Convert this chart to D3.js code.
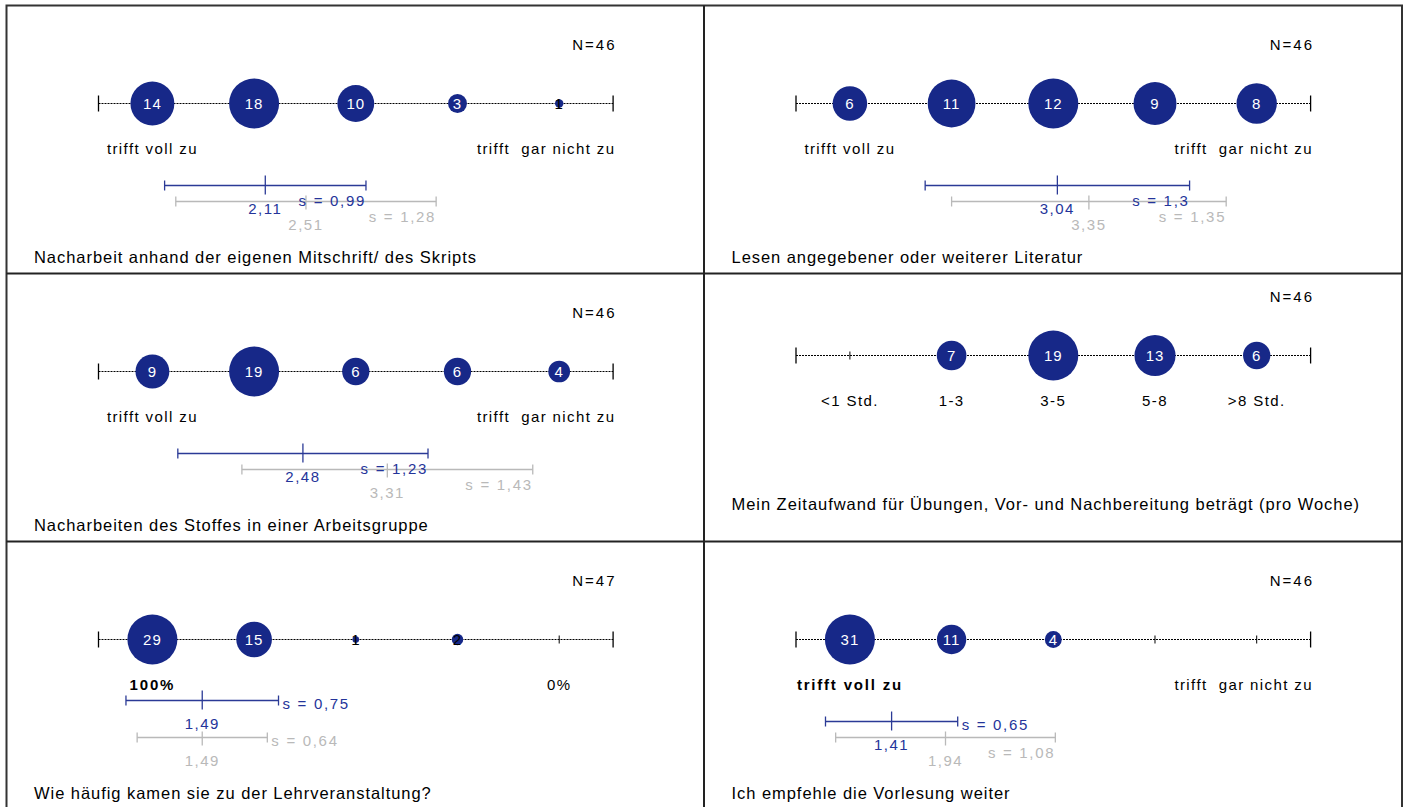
<!DOCTYPE html>
<html>
<head>
<meta charset="utf-8">
<script src="https://cdn.jsdelivr.net/npm/d3@7"></script>
<style>
  body { margin: 0; background: #fff; }
  text { font-family: "Liberation Sans", Arial, sans-serif; white-space: pre; }
</style>
</head>
<body>
<script>
// question titles, one per panel
var titles = [
  "Nacharbeit anhand der eigenen Mitschrift/ des Skripts",
  "Lesen angegebener oder weiterer Literatur",
  "Nacharbeiten des Stoffes in einer Arbeitsgruppe",
  "Mein Zeitaufwand für Übungen, Vor- und Nachbereitung beträgt (pro Woche)",
  "Wie häufig kamen sie zu der Lehrveranstaltung?",
  "Ich empfehle die Vorlesung weiter"
];

// answers per scale point 1..5
var counts = [
  [14, 18, 10, 3, 1],
  [6, 11, 12, 9, 8],
  [9, 19, 6, 6, 4],
  [0, 7, 19, 13, 6],
  [29, 15, 1, 2, 0],
  [31, 11, 4, 0, 0]
];

var nTotals = [46, 46, 46, 46, 47, 46];

// labels under the scale: [left, right], or all five for the time question
var poleLabels = [
  ["trifft voll zu", "trifft  gar nicht zu"],
  ["trifft voll zu", "trifft  gar nicht zu"],
  ["trifft voll zu", "trifft  gar nicht zu"],
  null,
  ["100%", "0%"],
  ["trifft voll zu", "trifft  gar nicht zu"]
];
var timeLabels = ["<1 Std.", "1-3", "3-5", "5-8", ">8 Std."];

// mean and standard deviation of this course, and of the comparison group
var means = [2.11, 3.04, 2.48, null, 1.49, 1.41];
var sds = [0.99, 1.3, 1.23, null, 0.75, 0.65];
var refMeans = [2.51, 3.35, 3.31, null, 1.49, 1.94];
var refSds = [1.28, 1.35, 1.43, null, 0.64, 1.08];

var boldLeftLabel = [false, false, false, false, true, true];

var W = 1408, H = 807;
var colX = [6.5, 704], rowY = [5.5, 273.5, 541.5];
var navy = "#172888", barBlue = "#2b3a96", grey = "#b9b9b9";

var svg = d3.select("body").append("svg")
  .attr("width", W)
  .attr("height", H);

var fmt = function (v) { return String(v).replace(".", ","); };

titles.forEach(function (title, i) {
  var left = colX[i % 2], top = rowY[Math.floor(i / 2)];
  var hasStats = means[i] !== null;
  var dy = hasStats ? 0 : -16;
  var g = svg.append("g");

  var x = d3.scalePoint()
    .domain([1, 2, 3, 4, 5])
    .range([left + 92, left + 606.6])
    .padding(0.53);
  var xv = d3.scaleLinear().domain([1, 5]).range([x(1), x(5)]);
  // bubble area grows with count (slightly offset so single answers stay small)
  var area = d3.scaleLinear().domain([0.5, d3.max(counts[i])]).range([0, 625]).clamp(true);
  var r = function (c) { return Math.sqrt(area(c)); };
  var axisY = top + 98 + dy;

  // dotted scale line
  g.append("line")
    .attr("x1", left + 92).attr("x2", left + 606.6)
    .attr("y1", axisY).attr("y2", axisY)
    .attr("stroke", "#000")
    .attr("stroke-dasharray", "2,1");
  [left + 92, left + 606.6].forEach(function (ex) {
    g.append("line")
      .attr("x1", ex).attr("x2", ex)
      .attr("y1", axisY - 8).attr("y2", axisY + 8)
      .attr("stroke", "#000").attr("stroke-width", 1.3);
  });
  g.selectAll(".tick")
    .data(x.domain())
    .join("line")
    .attr("x1", function (d) { return x(d); })
    .attr("x2", function (d) { return x(d); })
    .attr("y1", axisY - 4).attr("y2", axisY + 4)
    .attr("stroke", "#000");

  var pts = counts[i].map(function (c, k) { return { k: k + 1, c: c }; })
    .filter(function (d) { return d.c > 0; });

  g.selectAll(".bubble")
    .data(pts)
    .join("circle")
    .attr("cx", function (d) { return x(d.k); })
    .attr("cy", axisY)
    .attr("r", function (d) { return r(d.c); })
    .attr("fill", navy);

  g.selectAll(".count")
    .data(pts)
    .join("text")
    .attr("x", function (d) { return x(d.k); })
    .attr("y", axisY)
    .attr("dy", "0.36em")
    .attr("text-anchor", "middle")
    .attr("font-size", 15)
    .attr("letter-spacing", 1)
    .attr("fill", function (d) { return r(d.c) >= 8 ? "#fff" : "#000"; })
    .text(function (d) { return d.c; });

  // N
  g.append("text")
    .attr("x", left + 610).attr("y", top + 39.5 + dy)
    .attr("dy", "0.35em")
    .attr("text-anchor", "end")
    .attr("font-size", 15)
    .attr("letter-spacing", 2)
    .text("N=" + nTotals[i]);

  var labY = top + 143 + dy;
  if (poleLabels[i]) {
    g.append("text")
      .attr("x", x(1)).attr("y", labY)
      .attr("dy", "0.35em")
      .attr("text-anchor", "middle")
      .attr("font-size", 15)
      .attr("font-weight", boldLeftLabel[i] ? "bold" : null)
      .attr("letter-spacing", boldLeftLabel[i] ? 1.8 : 1.4)
      .text(poleLabels[i][0]);
    var rt = g.append("text")
      .attr("y", labY)
      .attr("dy", "0.35em")
      .attr("text-anchor", "middle")
      .attr("font-size", 15)
      .attr("letter-spacing", 1.4)
      .text(poleLabels[i][1]);
    var w = rt.node().getComputedTextLength();
    rt.attr("x", Math.min(x(5) + w / 2, left + 609) - w / 2);
  } else {
    g.selectAll(".cat")
      .data(timeLabels)
      .join("text")
      .attr("x", function (d, k) { return x(k + 1); })
      .attr("y", labY)
      .attr("dy", "0.35em")
      .attr("text-anchor", "middle")
      .attr("font-size", 15)
      .attr("letter-spacing", 1.4)
      .text(function (d) { return d; });
  }

  if (hasStats) {
    var greyY = top + 196;
    var stacked = Math.abs(xv(means[i]) - xv(refMeans[i])) < 30;
    var blueY = greyY - (stacked ? 37 : 16);
    drawBar(g, xv, refMeans[i], refSds[i], greyY, grey, grey, 6, 8);
    drawBar(g, xv, means[i], sds[i], blueY, barBlue, "#24349a", 10, 9);
  }

  g.append("text")
    .attr("x", left + 27.5)
    .attr("y", top + (hasStats ? 251.5 : 230.5))
    .attr("dy", "0.35em")
    .attr("font-size", 16.5)
    .attr("letter-spacing", 0.95)
    .text(title);
});

function drawBar(g, xv, m, s, y, col, textCol, up, down) {
  var x0 = xv(m - s), x1 = xv(m + s), xm = xv(m);
  g.append("line")
    .attr("x1", x0).attr("x2", x1).attr("y1", y).attr("y2", y)
    .attr("stroke", col).attr("stroke-width", 1.6);
  [x0, x1].forEach(function (ex) {
    g.append("line")
      .attr("x1", ex).attr("x2", ex).attr("y1", y - 5).attr("y2", y + 5)
      .attr("stroke", col).attr("stroke-width", 1.3);
  });
  g.append("line")
    .attr("x1", xm).attr("x2", xm).attr("y1", y - up).attr("y2", y + down)
    .attr("stroke", col).attr("stroke-width", 1.3);

  g.append("text")
    .attr("x", xm).attr("y", y + 23)
    .attr("dy", "0.35em")
    .attr("text-anchor", "middle")
    .attr("font-size", 15)
    .attr("letter-spacing", 1.5)
    .attr("fill", textCol)
    .text(fmt(m));

  var st = g.append("text")
    .attr("dy", "0.35em")
    .attr("font-size", 15)
    .attr("letter-spacing", 1.7)
    .attr("fill", textCol)
    .text("s = " + fmt(s));
  var w = st.node().getComputedTextLength();
  if (x1 - xm < w + 20) {
    st.attr("x", x1 + 4).attr("y", y + 3.5).attr("text-anchor", "start");
  } else {
    st.attr("x", x1).attr("y", y + 15).attr("text-anchor", "end");
  }
}

// frame
svg.append("rect")
  .attr("x", colX[0]).attr("y", rowY[0])
  .attr("width", 1402 - colX[0]).attr("height", 810 - rowY[0])
  .attr("fill", "none").attr("stroke", "#333").attr("stroke-width", 2);
svg.append("line")
  .attr("x1", colX[1]).attr("x2", colX[1]).attr("y1", rowY[0]).attr("y2", H)
  .attr("stroke", "#222").attr("stroke-width", 2);
rowY.slice(1).forEach(function (ry) {
  svg.append("line")
    .attr("x1", colX[0]).attr("x2", 1402).attr("y1", ry).attr("y2", ry)
    .attr("stroke", "#222").attr("stroke-width", 2);
});
</script>
</body>
</html>
